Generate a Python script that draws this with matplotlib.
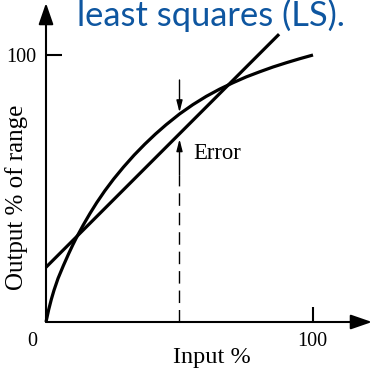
#!/usr/bin/env python3
"""Non-linear sensor characteristic against its least-squares straight line."""

import matplotlib

matplotlib.use("Agg")
import matplotlib.pyplot as plt  # noqa: E402

# measured characteristic (input %, output % of range)
CURVE_X = [0, 1, 2, 3, 4.5, 6.5, 8.5, 10, 11.5, 14, 16.5, 19, 22, 25.3, 29,
           33, 37, 41, 45, 50, 55, 60, 65, 70, 75, 80, 85, 90, 95, 100]
CURVE_Y = [0, 4.6, 8.5, 11.9, 16.3, 21.1, 25.6, 28.8, 31.8, 36.4, 40.7, 44.7,
           49.1, 53.5, 58.0, 62.5, 66.6, 70.4, 73.9, 77.9, 81.4, 84.5, 87.2,
           89.6, 91.8, 93.7, 95.5, 97.1, 98.6, 100]

# fitted straight line (end points)
LINE_X = [0, 87.3]
LINE_Y = [20.5, 107.8]

ERROR_X = 50
ERROR_CURVE_Y = 77.9
ERROR_LINE_Y = 70.0

TITLE = "least squares (LS)."
XLABEL = "Input %"
YLABEL = "Output % of range"

PX = 2.67  # pixels per data unit
ORIGIN = (46, 322)  # pixel position of (0, 0)
W, H = 376, 368


def dx(px):
    return (px - ORIGIN[0]) / PX


def dy(py):
    return (ORIGIN[1] - py) / PX


fig = plt.figure(figsize=(W / 100, H / 100), dpi=100)
ax = fig.add_axes([0, 0, 1, 1])
ax.set_xlim(dx(0), dx(W))
ax.set_ylim(dy(H), dy(0))
ax.axis("off")

serif = ["Liberation Serif", "DejaVu Serif"]

# axes with arrow heads
axis_arrow = dict(arrowstyle="-|>,head_length=1.3,head_width=0.45",
                  color="black", lw=1.5, shrinkA=0, shrinkB=0)
ax.annotate("", xy=(0, dy(3)), xytext=(0, 0), arrowprops=axis_arrow)
ax.annotate("", xy=(dx(372), 0), xytext=(0, 0), arrowprops=axis_arrow)

# ticks at 100
ax.plot([0, dx(62)], [100, 100], color="black", lw=1.5, solid_capstyle="butt")
ax.plot([100, 100], [0, dy(307)], color="black", lw=1.5, solid_capstyle="butt")

ax.plot(CURVE_X, CURVE_Y, color="black", lw=2.3, solid_capstyle="butt",
        solid_joinstyle="round")
ax.plot(LINE_X, LINE_Y, color="black", lw=2.3, solid_capstyle="butt")

# error indicator
small_arrow = dict(arrowstyle="-|>,head_length=0.7,head_width=0.18",
                   color="black", lw=1.0, shrinkA=0, shrinkB=0)
ax.annotate("", xy=(ERROR_X, ERROR_CURVE_Y + 0.6), xytext=(ERROR_X, dy(80)),
            arrowprops=small_arrow)
ax.annotate("", xy=(ERROR_X, ERROR_LINE_Y - 1.5), xytext=(ERROR_X, 55),
            arrowprops=small_arrow)
ax.plot([ERROR_X, ERROR_X], [0, 55], color="black", lw=1.0,
        linestyle=(0, (9, 5)))

ax.text(dx(193), dy(153), "Error", family=serif, fontsize=16.4,
        ha="left", va="center")

ax.text(dx(21), dy(57.5), "100", family=serif, fontsize=14.5,
        ha="center", va="center")
ax.text(dx(32.3), dy(342), "0", family=serif, fontsize=14.5,
        ha="center", va="center")
ax.text(dx(312.5), dy(342), "100", family=serif, fontsize=14.5,
        ha="center", va="center")
ax.text(dx(211.5), dy(357), XLABEL, family=serif, fontsize=17.5,
        ha="center", va="center")
ax.text(dx(17), dy(197.5), YLABEL, family=serif, fontsize=18,
        ha="center", va="center", rotation=90)

ax.text(dx(77), dy(26), TITLE, family=["Lato", "DejaVu Sans"], fontsize=24.8,
        color="#0E56A0", ha="left", va="baseline")

fig.savefig("out.png", dpi=100)
